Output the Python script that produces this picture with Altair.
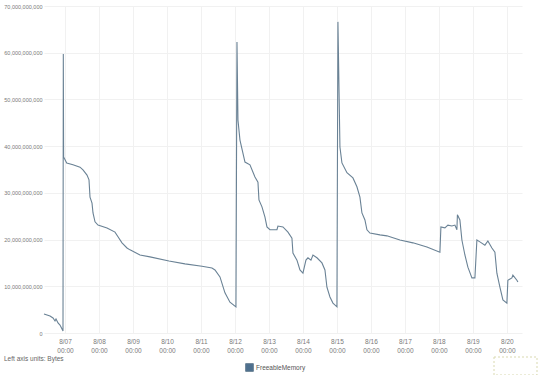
import altair as alt
import pandas as pd

times = [
    "2016-08-06 09:10", "2016-08-06 13:25", "2016-08-06 15:32", "2016-08-06 16:56", "2016-08-06 17:39",
    "2016-08-06 19:04", "2016-08-06 20:28", "2016-08-06 21:53", "2016-08-06 22:35", "2016-08-06 22:48",
    "2016-08-06 23:01", "2016-08-07 01:12", "2016-08-07 05:39", "2016-08-07 10:35", "2016-08-07 12:42",
    "2016-08-07 15:32", "2016-08-07 16:56", "2016-08-07 17:39", "2016-08-07 19:04", "2016-08-07 19:46",
    "2016-08-07 21:11", "2016-08-07 23:18", "2016-08-08 05:39", "2016-08-08 11:18", "2016-08-08 13:25",
    "2016-08-08 16:14", "2016-08-08 19:46", "2016-08-08 21:53", "2016-08-09 04:56", "2016-08-09 12:00",
    "2016-08-10 01:25", "2016-08-10 12:42", "2016-08-11 00:42", "2016-08-11 07:46", "2016-08-11 09:53",
    "2016-08-11 13:25", "2016-08-11 16:56", "2016-08-11 20:28", "2016-08-12 00:42",
    "2016-08-12 01:25", "2016-08-12 02:07", "2016-08-12 03:32", "2016-08-12 07:04", "2016-08-12 10:35",
    "2016-08-12 14:07", "2016-08-12 16:14", "2016-08-12 16:56", "2016-08-12 19:04", "2016-08-12 21:11",
    "2016-08-12 22:35", "2016-08-13 00:42", "2016-08-13 05:39", "2016-08-13 06:21", "2016-08-13 09:53",
    "2016-08-13 13:25", "2016-08-13 16:14", "2016-08-13 16:56", "2016-08-13 19:46", "2016-08-13 21:53",
    "2016-08-14 00:00", "2016-08-14 02:07", "2016-08-14 03:32", "2016-08-14 05:39", "2016-08-14 07:04",
    "2016-08-14 09:53", "2016-08-14 13:25", "2016-08-14 15:32", "2016-08-14 16:56", "2016-08-14 19:04",
    "2016-08-14 21:11", "2016-08-15 00:00",
    "2016-08-15 00:42", "2016-08-15 02:07", "2016-08-15 03:32", "2016-08-15 07:04", "2016-08-15 11:18",
    "2016-08-15 14:07", "2016-08-15 16:14", "2016-08-15 17:39", "2016-08-15 19:46", "2016-08-15 21:11",
    "2016-08-15 23:18", "2016-08-16 06:21", "2016-08-16 11:18", "2016-08-16 13:25", "2016-08-16 20:28",
    "2016-08-17 05:39", "2016-08-17 15:32", "2016-08-18 00:42", "2016-08-18 01:25", "2016-08-18 04:14",
    "2016-08-18 06:21", "2016-08-18 09:11", "2016-08-18 11:18", "2016-08-18 12:42", "2016-08-18 13:04",
    "2016-08-18 14:49", "2016-08-18 16:14", "2016-08-18 18:21", "2016-08-18 20:28", "2016-08-18 23:18",
    "2016-08-19 01:25", "2016-08-19 02:49", "2016-08-19 04:56", "2016-08-19 08:28", "2016-08-19 10:35",
    "2016-08-19 13:25", "2016-08-19 15:32", "2016-08-19 16:56", "2016-08-19 19:04", "2016-08-19 21:11",
    "2016-08-20 00:00", "2016-08-20 00:42", "2016-08-20 03:32", "2016-08-20 04:14", "2016-08-20 07:04",
    "2016-08-20 07:46",
]

# FreeableMemory, in billions of bytes
freeable_gb = [
    4.07, 3.64, 3.21, 2.57, 3.0, 2.14, 1.71, 0.86, 0.43, 59.7,
    37.7, 36.4, 36.0, 35.5, 34.9, 33.8, 32.8, 29.1, 27.8, 25.7,
    23.8, 23.1, 22.5, 21.6, 20.6, 19.3, 18.2, 17.8, 16.7, 16.3,
    15.4, 14.8, 14.3, 13.9, 13.5, 12.0, 8.6, 6.6, 5.6,
    62.3, 45.6, 41.3, 36.6, 36.0, 33.4, 32.3, 28.5, 27.0, 24.8,
    22.7, 22.1, 22.1, 22.9, 22.7, 21.6, 20.3, 17.1, 15.6, 13.5,
    12.8, 15.6, 16.1, 15.6, 16.7, 16.1, 15.0, 13.5, 9.8, 7.7,
    6.4, 5.6,
    66.6, 39.8, 36.4, 34.3, 33.2, 31.3, 29.1, 25.7, 24.2, 22.1,
    21.4, 21.0, 20.8, 20.6, 19.9, 19.3, 18.4, 17.3, 22.7, 22.5,
    23.1, 22.9, 23.1, 22.1, 25.3, 24.2, 19.9, 16.7, 14.1, 11.8,
    11.8, 19.9, 19.5, 18.8, 19.7, 18.2, 17.3, 12.8, 9.8, 7.1,
    6.4, 11.3, 11.8, 12.4, 11.3, 10.9,
]

series_name = "FreeableMemory"
y_ticks = [0, 10e9, 20e9, 30e9, 40e9, 50e9, 60e9, 70e9]
tick_days = list(range(7, 21))
units_text = "Left axis units:  Bytes"

df = pd.DataFrame({
    "time": times,
    "bytes": [v * 1e9 for v in freeable_gb],
    "metric": [series_name] * len(times),
})

font = "Liberation Sans"
grid_color = "#f1f1f1"
label_color = "#7a7a7a"

x_axis = alt.Axis(
    values=[alt.DateTime(year=2016, month=8, date=d) for d in tick_days],
    labelExpr="[timeFormat(datum.value, '%-m/%d'), timeFormat(datum.value, '%H:%M')]",
    labelFontSize=6.5, labelColor=label_color, labelFont=font, labelLineHeight=9,
    labelPadding=5, ticks=False, domain=False, grid=True, gridColor=grid_color,
    title=None, labelAngle=0,
)
y_axis = alt.Axis(
    values=y_ticks, format=",d", labelFontSize=5.5, labelColor=label_color, labelFont=font,
    labelPadding=2, ticks=False, domain=False, grid=True, gridColor=grid_color, title=None,
)

line = alt.Chart(df).mark_line(strokeWidth=1.1, interpolate="linear").encode(
    x=alt.X("time:T", axis=x_axis,
            scale=alt.Scale(domain=[alt.DateTime(year=2016, month=8, date=6, hours=9, minutes=10),
                                    alt.DateTime(year=2016, month=8, date=20, hours=10, minutes=40)])),
    y=alt.Y("bytes:Q", axis=y_axis, scale=alt.Scale(domain=[0, 70e9], nice=False)),
    color=alt.Color("metric:N", scale=alt.Scale(range=["#6a8295"]),
                    legend=alt.Legend(orient="none", legendX=201, legendY=357, title=None,
                                      symbolType="square", symbolSize=60, symbolFillColor="#4d6f8e",
                                      symbolStrokeColor="#9fb3c6", symbolStrokeWidth=1,
                                      labelFontSize=6.5, labelColor="#555555", labelFont=font,
                                      labelOffset=2, padding=0)),
)

units = alt.Chart(pd.DataFrame({"t": [units_text]})).mark_text(
    align="left", baseline="middle", fontSize=6.5, color="#666666", font=font
).encode(x=alt.value(-40), y=alt.value(353), text="t:N")

box = alt.Chart(pd.DataFrame({"a": [0]})).mark_rect(
    fill="white", fillOpacity=0, stroke="#d9d9b0", strokeDash=[2, 2], strokeWidth=1
).encode(x=alt.value(450), x2=alt.value(493), y=alt.value(351), y2=alt.value(369))

chart = alt.layer(line, units, box).properties(
    width=478, height=327,
    autosize=alt.AutoSizeParams(type="none"),
    padding={"left": 44, "top": 6, "right": 18, "bottom": 42},
    background="white",
).configure_view(stroke=None)

chart.save("out.html", embed_options={"renderer": "svg", "actions": False})
